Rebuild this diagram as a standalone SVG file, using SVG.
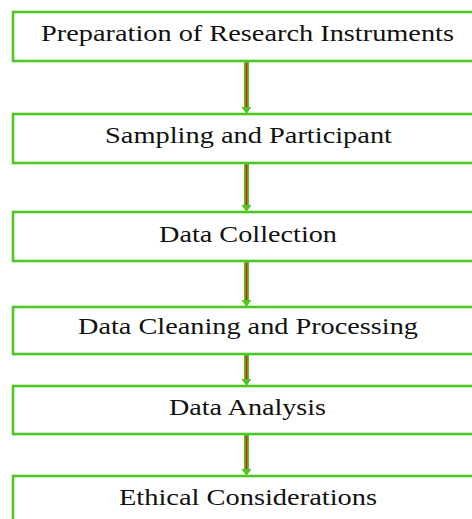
<svg xmlns="http://www.w3.org/2000/svg" width="472" height="519" viewBox="0 0 472 519">
  <style>
    .box { fill: #ffffff; stroke: #4fc722; stroke-width: 2.6; }
    .label { font-family: "Liberation Serif", "Times New Roman", serif; font-size: 22.5px; fill: #111111; }
    .shaft { stroke: #4fc722; stroke-width: 5; }
    .core { stroke: #e8140c; stroke-width: 1.6; }
    .head { fill: #4fc722; }
  </style>
  <rect width="472" height="519" fill="#ffffff"/>

  <g id="connectors">
    <g id="c1">
      <line class="shaft" x1="246.5" y1="62" x2="246.5" y2="108"/>
      <line class="core" x1="246.5" y1="63" x2="246.5" y2="108"/>
      <polygon class="head" points="241.5,107 251.5,107 246.5,114"/>
    </g>
    <g id="c2">
      <line class="shaft" x1="246.5" y1="164" x2="246.5" y2="206"/>
      <line class="core" x1="246.5" y1="165" x2="246.5" y2="206"/>
      <polygon class="head" points="241.5,205 251.5,205 246.5,212"/>
    </g>
    <g id="c3">
      <line class="shaft" x1="246.5" y1="262" x2="246.5" y2="301"/>
      <line class="core" x1="246.5" y1="263" x2="246.5" y2="301"/>
      <polygon class="head" points="241.5,300 251.5,300 246.5,307"/>
    </g>
    <g id="c4">
      <line class="shaft" x1="246.5" y1="355" x2="246.5" y2="380"/>
      <line class="core" x1="246.5" y1="356" x2="246.5" y2="380"/>
      <polygon class="head" points="241.5,379 251.5,379 246.5,386"/>
    </g>
    <g id="c5">
      <line class="shaft" x1="246.5" y1="435" x2="246.5" y2="470"/>
      <line class="core" x1="246.5" y1="436" x2="246.5" y2="470"/>
      <polygon class="head" points="241.5,469 251.5,469 246.5,476"/>
    </g>
  </g>

  <g id="preparation">
    <rect class="box" x="13" y="12" width="470" height="49"/>
    <text class="label" x="41" y="41" textLength="413" lengthAdjust="spacingAndGlyphs">Preparation of Research Instruments</text>
  </g>
  <g id="sampling">
    <rect class="box" x="13" y="114" width="470" height="49"/>
    <text class="label" x="105" y="143" textLength="287" lengthAdjust="spacingAndGlyphs">Sampling and Participant</text>
  </g>
  <g id="collection">
    <rect class="box" x="13" y="212" width="470" height="49"/>
    <text class="label" x="159" y="242" textLength="178" lengthAdjust="spacingAndGlyphs">Data Collection</text>
  </g>
  <g id="cleaning">
    <rect class="box" x="13" y="307" width="470" height="47"/>
    <text class="label" x="78" y="334" textLength="340" lengthAdjust="spacingAndGlyphs">Data Cleaning and Processing</text>
  </g>
  <g id="analysis">
    <rect class="box" x="13" y="386" width="470" height="48"/>
    <text class="label" x="169" y="415" textLength="157" lengthAdjust="spacingAndGlyphs">Data Analysis</text>
  </g>
  <g id="ethics">
    <rect class="box" x="13" y="476" width="470" height="60"/>
    <text class="label" x="119" y="505" textLength="258" lengthAdjust="spacingAndGlyphs">Ethical Considerations</text>
  </g>
</svg>
